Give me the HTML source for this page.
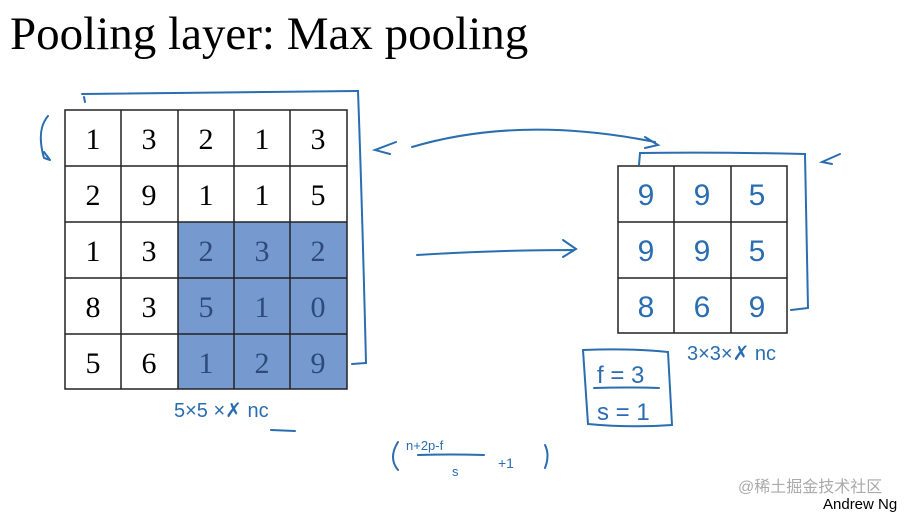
<!DOCTYPE html>
<html><head><meta charset="utf-8"><style>
html,body{margin:0;padding:0;background:#fff;}
svg{display:block}
</style></head><body>
<svg width="915" height="514" viewBox="0 0 915 514" xmlns="http://www.w3.org/2000/svg">
<rect width="915" height="514" fill="#fff"/>
<text x="10" y="49" font-family="Liberation Serif, serif" font-size="47" fill="#000">Pooling layer: Max pooling</text>
<!-- left grid -->
<rect x="178" y="222" width="169" height="167" fill="#7699cf"/>
<g stroke="#222" stroke-width="1.5" fill="none">
<rect x="65" y="110" width="282" height="279"/>
<line x1="121" y1="110" x2="121" y2="389"/><line x1="178" y1="110" x2="178" y2="389"/>
<line x1="234" y1="110" x2="234" y2="389"/><line x1="290" y1="110" x2="290" y2="389"/>
<line x1="65" y1="166" x2="347" y2="166"/><line x1="65" y1="222" x2="347" y2="222"/>
<line x1="65" y1="278" x2="347" y2="278"/><line x1="65" y1="334" x2="347" y2="334"/>
</g>
<g font-family="Liberation Serif, serif" font-size="30" text-anchor="middle" fill="#000">
<text x="93" y="149">1</text><text x="149" y="149">3</text><text x="206" y="149">2</text><text x="262" y="149">1</text><text x="318" y="149">3</text>
<text x="93" y="205">2</text><text x="149" y="205">9</text><text x="206" y="205">1</text><text x="262" y="205">1</text><text x="318" y="205">5</text>
<text x="93" y="261">1</text><text x="149" y="261">3</text>
<text x="93" y="317">8</text><text x="149" y="317">3</text>
<text x="93" y="373">5</text><text x="149" y="373">6</text>
<g fill="#2e4a7a">
<text x="206" y="261">2</text><text x="262" y="261">3</text><text x="318" y="261">2</text>
<text x="206" y="317">5</text><text x="262" y="317">1</text><text x="318" y="317">0</text>
<text x="206" y="373">1</text><text x="262" y="373">2</text><text x="318" y="373">9</text>
</g></g>
<!-- right grid -->
<g stroke="#222" stroke-width="1.5" fill="none">
<rect x="618" y="166" width="169" height="167"/>
<line x1="674" y1="166" x2="674" y2="333"/><line x1="731" y1="166" x2="731" y2="333"/>
<line x1="618" y1="222" x2="787" y2="222"/><line x1="618" y1="278" x2="787" y2="278"/>
</g>
<g font-family="Liberation Sans, sans-serif" font-size="30" text-anchor="middle" fill="#2a6db0">
<text x="646" y="205">9</text><text x="702" y="205">9</text><text x="757" y="205">5</text>
<text x="646" y="261">9</text><text x="702" y="261">9</text><text x="757" y="261">5</text>
<text x="646" y="317">8</text><text x="702" y="317">6</text><text x="757" y="317">9</text>
</g>
<!-- blue ink strokes -->
<g stroke="#2a6db0" stroke-width="2" fill="none" stroke-linecap="round">
<path d="M82 94 Q220 92 356 91 L358 91 Q362 200 366 363 L352 364"/>
<path d="M84 97 L85 102"/>
<path d="M48 116 Q36 130 44 158 L50 160 M44 152 L50 160"/>
<path d="M396 142 L375 150 L390 154"/>
<path d="M412 147 Q520 115 655 142 M645 137 L658 145 L645 148"/>
<path d="M639 165 L640 153 Q720 152 805 154 L808 308 L791 310"/>
<path d="M840 154 L822 162 L832 164"/>
<path d="M417 255 Q500 250 573 250 M563 240 L576 249 L563 257"/>
<path d="M583 350 Q630 348 668 352 L672 425 Q630 428 588 424 Z"/>
<path d="M594 388 Q625 387 659 388"/>
<path d="M271 430 L295 431"/>
<path d="M398 442 Q388 458 398 470 M545 445 Q550 455 545 468"/>
<path d="M418 455 Q450 454 484 455"/>
</g>
<g font-family="Liberation Sans, sans-serif" fill="#2a6db0">
<text x="174" y="417" font-size="20">5×5 ×✗ nc</text>
<text x="687" y="360" font-size="20">3×3×✗ nc</text>
<text x="597" y="383" font-size="24">f = 3</text>
<text x="597" y="420" font-size="24">s = 1</text>
<text x="406" y="450" font-size="13">n+2p-f</text>
<text x="452" y="476" font-size="13">s</text>
<text x="498" y="468" font-size="14">+1</text>
</g>
<text x="738" y="492" font-family="Liberation Sans, Noto Sans CJK SC, sans-serif" font-size="16" fill="#aaa">@稀土掘金技术社区</text>
<text x="823" y="509" font-family="Liberation Sans, sans-serif" font-size="15" fill="#000">Andrew Ng</text>
</svg>
</body></html>
